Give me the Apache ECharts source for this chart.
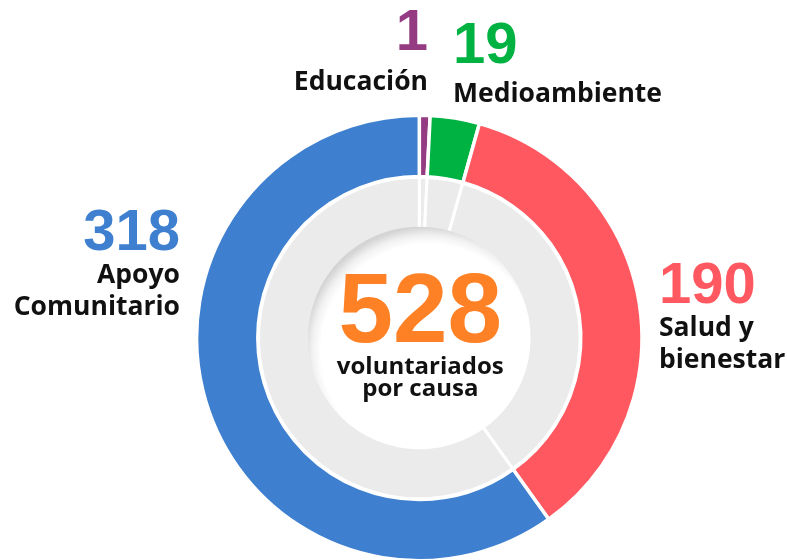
<!DOCTYPE html>
<html>
<head>
<meta charset="utf-8">
<script src="https://cdn.jsdelivr.net/npm/echarts@6/dist/echarts.min.js"></script>
<style>
  html, body { margin: 0; padding: 0; background: #fff; }
  #chart { width: 787px; height: 560px; }
</style>
</head>
<body>
<div id="chart"></div>
<script>
// Volunteering placements per cause
const causes = ['Educación', 'Medioambiente', 'Salud y bienestar', 'Apoyo Comunitario'];
const causeLines = ['Educación', 'Medioambiente', 'Salud y\nbienestar', 'Apoyo\nComunitario'];
const volunteers = [1, 19, 190, 318];
const causeColors = ['#943b82', '#00b241', '#ff5860', '#3e80cf'];
const centerCaption = ['voluntariados', 'por causa'];

const total = volunteers.reduce((a, b) => a + b, 0);

const CX = 419.3, CY = 338;
// label anchor per slice: x, top y, alignment, height of the number line
const labelAnchors = [
  [428, 2, 'right', 64],
  [453, 14.5, 'left', 64],
  [659, 262, 'left', 50],
  [180, 209, 'right', 50]
];

const NUM_FONT = '"Liberation Sans", Arial, sans-serif';
const NAME_FONT = '"Open Sans", "Noto Sans", sans-serif';

const ringData = causes.map((name, i) => ({
  name: name,
  value: volunteers[i],
  itemStyle: { color: causeColors[i] },
  label: {
    align: labelAnchors[i][2],
    rich: {
      num: {
        fontFamily: NUM_FONT, fontWeight: 'bold', fontSize: 58,
        lineHeight: labelAnchors[i][3], color: causeColors[i],
        align: labelAnchors[i][2]
      },
      name: {
        fontFamily: NAME_FONT, fontWeight: 'bold', fontSize: 26.5,
        lineHeight: 32, color: '#111', align: labelAnchors[i][2]
      }
    }
  }
}));

const chart = echarts.init(document.getElementById('chart'), null, { renderer: 'canvas' });

chart.setOption({
  animation: false,
  backgroundColor: '#fff',
  series: [
    {
      // coloured outer ring, carries the labels
      type: 'pie',
      center: [CX, CY],
      radius: [161.5, 222.7],
      startAngle: 90,
      clockwise: true,
      minAngle: 2.8,
      avoidLabelOverlap: false,
      silent: true,
      itemStyle: { borderColor: '#fff', borderWidth: 3.5 },
      label: {
        show: true,
        position: 'outside',
        overflow: 'none',
        formatter: (p) => '{num|' + p.value + '}\n' +
          causeLines[p.dataIndex].split('\n').map(s => '{name|' + s + '}').join('\n')
      },
      labelLine: { show: false },
      labelLayout: (params) => {
        const a = labelAnchors[params.dataIndex];
        return { x: a[0], y: a[1], align: a[2], verticalAlign: 'top' };
      },
      data: ringData
    },
    {
      // pale inner ring split the same way
      type: 'pie',
      center: [CX, CY],
      radius: [100, 160.8],
      startAngle: 90,
      clockwise: true,
      minAngle: 2.8,
      silent: true,
      label: { show: false },
      labelLine: { show: false },
      itemStyle: { color: '#ebebeb', borderColor: '#fff', borderWidth: 3 },
      data: causes.map((name, i) => ({ name: name, value: volunteers[i] }))
    },
    {
      // white centre disc, shaded along its upper-left rim
      type: 'pie',
      center: [CX, CY],
      radius: [0, 111.3],
      silent: true,
      label: { show: false },
      labelLine: { show: false },
      itemStyle: {
        color: new echarts.graphic.RadialGradient(0.54, 0.56, 0.56, [
          { offset: 0, color: '#ffffff' },
          { offset: 0.86, color: '#ffffff' },
          { offset: 0.93, color: '#f1f1f1' },
          { offset: 1, color: '#d4d4d4' }
        ])
      },
      data: [{ name: 'total', value: total }]
    }
  ],
  graphic: [
    {
      type: 'text',
      z: 100,
      x: CX + 1,
      y: 273.4,
      style: {
        text: '{n|' + total + '}\n' + centerCaption.map(s => '{t|' + s + '}').join('\n'),
        align: 'center',
        verticalAlign: 'top',
        rich: {
          n: {
            fontFamily: NUM_FONT, fontWeight: 'bold', fontSize: 98,
            lineHeight: 82.6, fill: '#ff8126', align: 'center'
          },
          t: {
            fontFamily: NAME_FONT, fontWeight: 'bold', fontSize: 24,
            lineHeight: 22, fill: '#111', align: 'center'
          }
        }
      }
    }
  ]
});
</script>
</body>
</html>
